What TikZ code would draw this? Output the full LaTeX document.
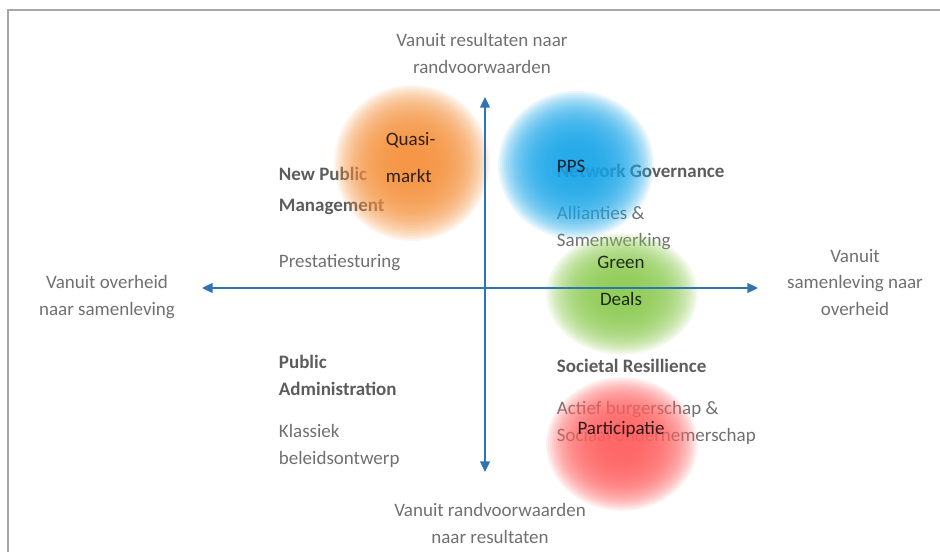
\documentclass[tikz,border=0pt]{standalone}
\usepackage{fontspec}
\setmainfont{Carlito}
\usetikzlibrary{arrows.meta}

\definecolor{axisblue}{RGB}{46,117,182}
\definecolor{labelgray}{RGB}{112,112,112}
\definecolor{headgray}{RGB}{92,92,92}
\definecolor{blobOrange}{RGB}{244,146,62}
\definecolor{blobBlue}{RGB}{27,166,232}
\definecolor{blobGreen}{RGB}{141,202,82}
\definecolor{blobRed}{RGB}{255,96,96}

\tikzset{
x=0.025cm, y=-0.025cm, % one unit is one pixel of the original picture
axis/.style={{Triangle[length=7.5pt,width=7pt]}-{Triangle[length=7.5pt,width=7pt]}, axisblue, line width=1pt}, % the two axes
axistext/.style={align=center, anchor=base, text=labelgray, font=\fontsize{13.5}{18.5}\selectfont}, % texts at the axis ends (base = last line)
quadhead/.style={align=left, anchor=base west, text=headgray, font=\fontsize{13.5}{18.5}\selectfont\bfseries}, % bold titles
quadtext/.style={align=left, anchor=base west, text=labelgray, font=\fontsize{13.5}{18.5}\selectfont}, % plain texts
blobtext/.style={align=center, text=black, text opacity=0.8, font=\fontsize{13.5}{18.5}\selectfont}, % texts on the clouds
blob/.style={fill opacity=0.09}, % one ring of a soft coloured cloud
frame/.style={draw=gray!70, line width=1.5pt},
}

\begin{document}
\begin{tikzpicture}
\useasboundingbox (0,0) rectangle (940,552);

\draw[frame] (940,10) -- (8,10) -- (8,552);

\node[quadhead] at (274, 211) (npm) {New Public\\[3.5pt]Management};
\node[quadtext] at (274, 267) (prest) {Prestatiesturing};
\node[quadhead] at (552, 177) (netgov) {Network Governance};
\node[quadtext] at (552, 246) (allian) {Allianties \&\\Samenwerking};
\node[quadhead] at (552, 372) (societal) {Societal Resillience};
\node[quadtext] at (552, 441) (actief) {Actief burgerschap \&\\Sociaal ondernemerschap};
\node[quadhead] at (274, 395) (pubadm) {Public\\Administration};
\node[quadtext] at (274, 464) (klass) {Klassiek\\beleidsontwerp};

% the four clouds, built from rings that get denser to the middle
\foreach \r in {14,16,...,78} \fill[blob, blobOrange] (412,163) circle (\r);
\foreach \r in {14,16,...,78} \fill[blob, blobBlue] (576,165) ellipse ({\r} and {0.95*\r});
\foreach \r in {14,16,...,76} \fill[blob, blobGreen] (622,294) ellipse ({\r} and {0.8*\r});
\foreach \r in {14,16,...,76} \fill[blob, blobRed] (622,444) ellipse ({\r} and {0.88*\r});

\coordinate (west) at (202,288);
\coordinate (east) at (758,288);
\coordinate (north) at (485,97);
\coordinate (south) at (485,472);
\draw[axis] (west) -- (east);
\draw[axis] (south) -- (north);

\node[axistext] at (482, 73) (top) {Vanuit resultaten naar\\randvoorwaarden};
\node[axistext] at (490, 543) (bottom) {Vanuit randvoorwaarden\\naar resultaten};
\node[axistext] at (107, 315) (left) {Vanuit overheid\\naar samenleving};
\node[axistext] at (855, 315) (right) {Vanuit\\samenleving naar\\overheid};

\node[blobtext, anchor=base west, align=left] at (381, 182) (quasi) {Quasi-\\[7.8pt]markt};
\node[blobtext, anchor=base west] at (552, 172) (pps) {PPS};
\node[blobtext, anchor=base] at (621, 305) (green) {Green\\[7.8pt]Deals};
\node[blobtext, anchor=base] at (621, 434) (partic) {Participatie};

\end{tikzpicture}
\end{document}
